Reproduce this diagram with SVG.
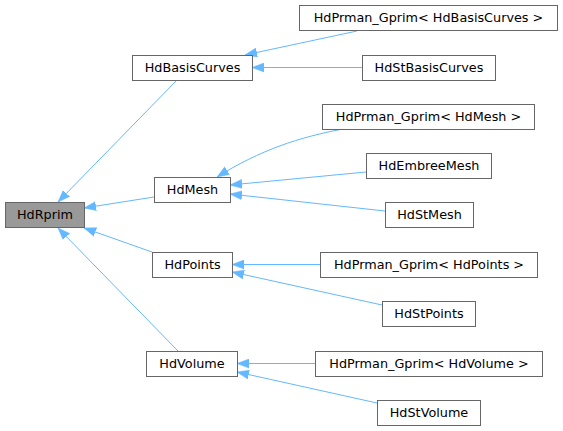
<svg xmlns="http://www.w3.org/2000/svg" width="563" height="431" viewBox="0 0 563 431">
<defs>
<style>
.n rect{fill:#fff;stroke:#666;stroke-width:1}
.n text{font-family:"DejaVu Sans",sans-serif;font-size:12.8px;text-anchor:middle;fill:#000}
#HdRprim rect{fill:#999}
.e path{fill:none;stroke:#63b8ff;stroke-width:1;marker-end:url(#ah)}
</style>
<marker id="ah" markerUnits="userSpaceOnUse" markerWidth="12" markerHeight="10" refX="12" refY="5" orient="auto">
<path d="M0,0.5 L12,5 L0,9.5 z" fill="#63b8ff" stroke="#63b8ff" stroke-width="0.5"/>
</marker>
</defs>
<rect width="563" height="431" fill="#fff"/>
<g class="e">
<path d="M177,80 L58,202"/>
<path d="M154,197 L84,208"/>
<path d="M152,252 L84,228"/>
<path d="M178,351 L58,228"/>
<path d="M357,31 L245,55"/>
<path d="M362,67.5 L252,67.5"/>
<path d="M343,129 C300,137 260,150 217,177"/>
<path d="M366,172 L230,185"/>
<path d="M385,211 L230,194"/>
<path d="M320,264.5 L232,264.5"/>
<path d="M382,305 L232,272"/>
<path d="M315,363.5 L237,363.5"/>
<path d="M377,403 L237,372"/>
</g>
<g id="HdRprim" class="n"><rect x="5.5" y="202.5" width="79" height="25"/><text x="45" y="218.5">HdRprim</text></g>
<g id="HdBasisCurves" class="n"><rect x="132.5" y="55.5" width="120" height="25"/><text x="192.5" y="71.5">HdBasisCurves</text></g>
<g id="HdMesh" class="n"><rect x="154.5" y="177.5" width="76" height="25"/><text x="192.5" y="193.5">HdMesh</text></g>
<g id="HdPoints" class="n"><rect x="152.5" y="252.5" width="80" height="25"/><text x="192.5" y="268.5">HdPoints</text></g>
<g id="HdVolume" class="n"><rect x="146.5" y="351.5" width="91" height="25"/><text x="192" y="367.5">HdVolume</text></g>
<g id="HdPrman_Gprim_HdBasisCurves" class="n"><rect x="299.5" y="5.5" width="258" height="25"/><text x="428.5" y="21.5">HdPrman_Gprim&lt; HdBasisCurves &gt;</text></g>
<g id="HdStBasisCurves" class="n"><rect x="362.5" y="55.5" width="133" height="25"/><text x="429" y="71.5">HdStBasisCurves</text></g>
<g id="HdPrman_Gprim_HdMesh" class="n"><rect x="322.5" y="104.5" width="212" height="25"/><text x="428.5" y="120.5">HdPrman_Gprim&lt; HdMesh &gt;</text></g>
<g id="HdEmbreeMesh" class="n"><rect x="366.5" y="153.5" width="125" height="25"/><text x="429" y="169.5">HdEmbreeMesh</text></g>
<g id="HdStMesh" class="n"><rect x="385.5" y="202.5" width="88" height="25"/><text x="429.5" y="218.5">HdStMesh</text></g>
<g id="HdPrman_Gprim_HdPoints" class="n"><rect x="320.5" y="252.5" width="217" height="25"/><text x="429" y="268.5">HdPrman_Gprim&lt; HdPoints &gt;</text></g>
<g id="HdStPoints" class="n"><rect x="382.5" y="301.5" width="93" height="25"/><text x="429" y="317.5">HdStPoints</text></g>
<g id="HdPrman_Gprim_HdVolume" class="n"><rect x="315.5" y="351.5" width="227" height="25"/><text x="429" y="367.5">HdPrman_Gprim&lt; HdVolume &gt;</text></g>
<g id="HdStVolume" class="n"><rect x="377.5" y="400.5" width="103" height="25"/><text x="429" y="416.5">HdStVolume</text></g>
</svg>
